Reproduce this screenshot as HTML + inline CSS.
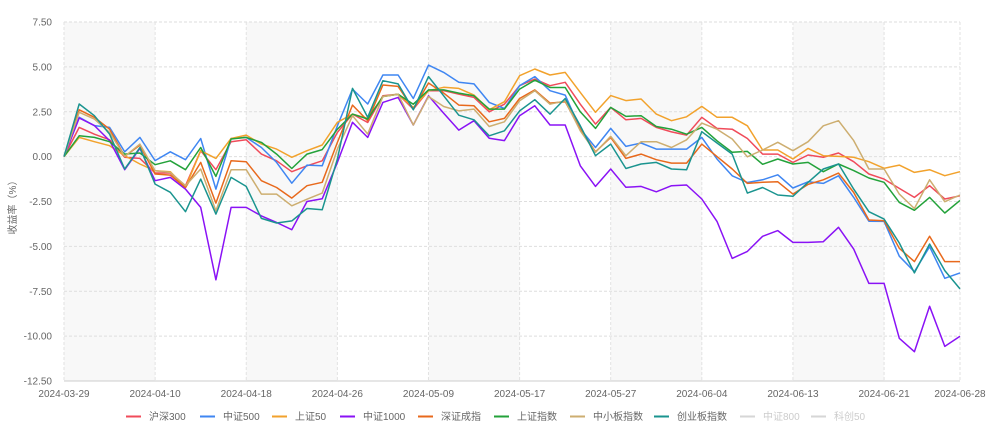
<!DOCTYPE html>
<html><head><meta charset="utf-8">
<style>
html,body{margin:0;padding:0;background:#fff;}
body{width:989px;height:432px;overflow:hidden;font-family:"Liberation Sans","Noto Sans CJK SC",sans-serif;}
svg text{font-family:"Liberation Sans","Noto Sans CJK SC",sans-serif;}
</style></head>
<body>
<svg id="chart" width="989" height="432" xmlns="http://www.w3.org/2000/svg">
  <g id="bands"></g>
  <g id="grid"></g>
  <g id="yaxis"></g>
  <g id="xaxis"></g>
  <g id="series"></g>
  <g id="legend"></g>
  <text x="0" y="0" transform="translate(16,205) rotate(-90)" text-anchor="middle" font-size="10" fill="#666">收益率（%）</text>
</svg>
<script>
const xTickLabels = ["2024-03-29","2024-04-10","2024-04-18","2024-04-26","2024-05-09","2024-05-17","2024-05-27","2024-06-04","2024-06-13","2024-06-21","2024-06-28"];
const xTickIndex = [0,6,12,18,24,30,36,42,48,54,59];
const yTicks = [7.5,5,2.5,0,-2.5,-5,-7.5,-10,-12.5];
const seriesNames = ["沪深300","中证500","上证50","中证1000","深证成指","上证指数","中小板指数","创业板指数","中证800","科创50"];
const seriesColors = ["#f04b5a","#3f86f2","#f2a22c","#8a12f5","#e8691c","#23a23a","#cdae70","#1a948f","#d6d6d6","#d6d6d6"];
const hs300 = [0,1.63,1.25,0.94,-0.04,-0.1,-0.91,-0.91,-1.62,0.33,-0.73,0.83,0.94,0.14,-0.23,-0.84,-0.51,-0.23,1.35,2.37,1.9,3.39,3.48,2.65,3.67,3.67,3.48,3.3,2.5,2.92,3.95,4.32,3.95,4.14,2.92,1.81,2.74,2.05,2.13,1.63,1.38,1.2,2.19,1.57,1.53,1.01,0.14,0.14,-0.32,0.09,-0.04,0.2,-0.28,-0.97,-1.25,-1.77,-2.27,-1.62,-2.36,-2.18];
const zz500 = [0,2.19,1.73,1.63,0.27,1.07,-0.22,0.27,-0.17,1.01,-1.81,1.01,1.07,0.51,-0.32,-1.48,-0.47,-0.51,1.72,3.76,2.93,4.55,4.55,3.24,5.1,4.69,4.14,4.05,3.02,2.68,3.95,4.46,3.67,3.43,1.54,0.51,1.57,0.57,0.76,0.42,0.42,0.42,1.07,-0.13,-1.07,-1.44,-1.29,-1.01,-1.75,-1.4,-1.49,-1.07,-2.27,-3.6,-3.61,-5.55,-6.41,-5.02,-6.78,-6.48];
const sz50 = [0,1.07,0.83,0.61,0.05,-0.41,-0.79,-0.84,-1.72,0.33,-0.1,1.01,1.2,0.7,0.42,-0.04,0.33,0.65,1.91,2.37,2.13,3.35,3.48,2.74,3.67,3.86,3.8,3.43,2.61,3.06,4.51,4.88,4.55,4.69,3.58,2.47,3.4,3.12,3.21,2.37,2.0,2.22,2.8,2.19,2.19,1.72,0.37,0.37,-0.13,0.46,0.05,0.01,-0.04,-0.28,-0.65,-0.47,-0.88,-0.73,-1.06,-0.84];
const zz1000 = [0,2.15,1.73,0.89,-0.73,0.46,-1.34,-1.16,-1.81,-2.83,-6.86,-2.83,-2.83,-3.3,-3.67,-4.07,-2.5,-2.35,-0.32,1.91,1.07,3.02,3.3,1.76,3.39,2.42,1.48,2.0,1.02,0.89,2.28,2.83,1.76,1.76,-0.51,-1.66,-0.69,-1.71,-1.66,-1.96,-1.62,-1.58,-2.36,-3.61,-5.67,-5.28,-4.44,-4.12,-4.78,-4.78,-4.74,-3.94,-5.15,-7.06,-7.06,-10.12,-10.87,-8.34,-10.57,-10.01];
const szcz = [0,2.61,2.19,1.53,0.01,0.64,-0.97,-1.03,-1.72,-0.32,-2.59,-0.23,-0.28,-1.34,-1.72,-2.31,-1.62,-1.43,0.79,2.87,2.0,3.99,3.91,2.65,4.1,3.54,2.87,2.83,1.94,2.13,3.24,3.72,2.98,3.06,1.53,0.27,1.07,-0.1,0.14,-0.17,-0.36,-0.36,0.7,0,-0.69,-1.49,-1.43,-1.4,-2.09,-1.55,-1.29,-0.92,-2.0,-3.53,-3.57,-5.11,-5.85,-4.44,-5.85,-5.85];
const szzs = [0,1.16,1.07,0.83,0.14,0.2,-0.45,-0.23,-0.73,0.51,-1.1,0.98,1.07,0.79,0.14,-0.66,0.14,0.39,1.53,2.37,2.09,3.35,3.48,2.92,3.72,3.72,3.54,3.39,2.65,2.65,3.76,4.26,3.85,3.85,2.5,1.57,2.74,2.24,2.28,1.68,1.53,1.25,1.63,0.88,0.24,0.29,-0.43,-0.13,-0.41,-0.32,-0.84,-0.41,-0.78,-1.19,-1.43,-2.55,-2.99,-2.27,-3.14,-2.44];
const zxb = [0,2.47,2.09,1.35,0.01,0.7,-0.79,-0.88,-1.62,-0.69,-3.02,-0.73,-0.73,-2.09,-2.09,-2.74,-2.37,-2.03,0.42,2.28,1.26,3.35,3.48,1.76,3.35,2.79,2.55,2.65,1.68,1.94,3.11,3.67,2.92,3.11,1.44,0.24,1.13,0.05,0.83,0.83,0.51,0.94,1.87,1.53,0.98,-0.01,0.37,0.8,0.33,0.83,1.72,2.0,0.89,-0.69,-0.69,-2.09,-2.89,-1.29,-2.51,-2.14];
const cyb = [0,2.93,2.28,1.25,-0.69,0.51,-1.53,-1.99,-3.07,-1.25,-3.2,-1.16,-1.66,-3.44,-3.7,-3.58,-2.89,-2.96,-0.13,3.8,2.19,4.23,4.05,2.61,4.46,3.39,2.31,2.05,1.16,1.44,2.55,3.17,2.37,3.24,1.72,0.05,0.7,-0.66,-0.41,-0.32,-0.69,-0.73,1.39,0.76,0.14,-2.03,-1.72,-2.14,-2.21,-1.43,-0.69,-0.41,-1.81,-3.07,-3.48,-4.81,-6.48,-4.87,-6.35,-7.37];
const seriesData = [hs300,zz500,sz50,zz1000,szcz,szzs,zxb,cyb,null,null];
const seriesKeys = ["hs300","zz500","sz50","zz1000","szcz","szzs","zxb","cyb","zz800","kc50"];

const NS="http://www.w3.org/2000/svg";
const L=64,R=960,T=22,B=381,N=60,YMAX=7.5,YMIN=-12.5;
function xs(i){return L+(R-L)*i/(N-1);}
function ys(v){return T+(YMAX-v)/(YMAX-YMIN)*(B-T);}
function mk(tag,attrs,parent){const e=document.createElementNS(NS,tag);for(const k in attrs)e.setAttribute(k,attrs[k]);parent.appendChild(e);return e;}

const bands=document.getElementById('bands');
for(let k=0;k<xTickIndex.length-1;k+=2){
  const r=mk('rect',{x:xs(xTickIndex[k]),y:T,width:xs(xTickIndex[k+1])-xs(xTickIndex[k]),height:B-T,fill:'#f8f8f8'},bands);
  
  
}
const grid=document.getElementById('grid');
yTicks.forEach(v=>{
  if(v===YMIN)return;
  const l=mk('line',{x1:L,x2:R,y1:ys(v),y2:ys(v),stroke:'#dedede','stroke-dasharray':'3,2','stroke-width':1},grid);
  
  
});
xTickIndex.forEach(i=>{
  const l=mk('line',{x1:xs(i),x2:xs(i),y1:T,y2:B,stroke:'#e2e2e2','stroke-dasharray':'3,2','stroke-width':1},grid);
  
  
});
const base=mk('line',{x1:L,x2:R,y1:B,y2:B,stroke:'#cccccc','stroke-width':1},grid);



const yaxis=document.getElementById('yaxis');
yTicks.forEach(v=>{
  const t=mk('text',{x:52,y:ys(v)+3.5,'text-anchor':'end','font-size':10,fill:'#666'},yaxis);
  t.textContent=v.toFixed(2);
  
  
});
const xaxis=document.getElementById('xaxis');
xTickIndex.forEach((i,k)=>{
  const t=mk('text',{x:xs(i),y:397,'text-anchor':'middle','font-size':10,fill:'#666'},xaxis);
  t.textContent=xTickLabels[k];
  
  
});

const sg=document.getElementById('series');
seriesData.forEach((d,s)=>{
  if(!d)return;
  const pts=d.map((v,i)=>xs(i).toFixed(1)+','+ys(v).toFixed(1)).join(' ');
  const p=mk('polyline',{points:pts,fill:'none',stroke:seriesColors[s],'stroke-width':1.5,'stroke-linejoin':'round'},sg);
  
  
});

const lg=document.getElementById('legend');
const legendX=[126,200,272,340,418,494,570,654,740,811];
seriesNames.forEach((n,s)=>{
  const g=mk('g',{},lg);
  
  
  mk('line',{x1:legendX[s],x2:legendX[s]+15,y1:416.5,y2:416.5,stroke:seriesColors[s],'stroke-width':2},g);
  const t=mk('text',{x:legendX[s]+23,y:420,'font-size':10,fill:s>=8?'#cccccc':'#666'},g);
  t.textContent=n;
});
</script>
</body></html>
